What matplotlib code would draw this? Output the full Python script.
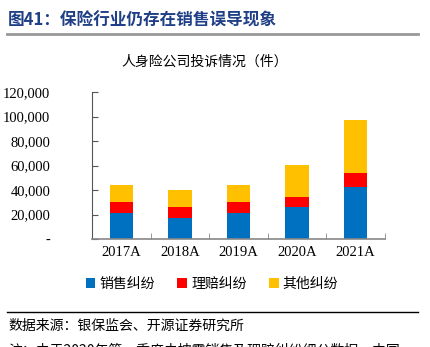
import matplotlib
matplotlib.use('Agg')
import matplotlib.pyplot as plt
import numpy as np
from matplotlib.lines import Line2D

plt.rcParams['font.family'] = ['Noto Sans CJK SC', 'DejaVu Sans']

years = ['2017A', '2018A', '2019A', '2020A', '2021A']
sales = [21400, 17400, 21400, 25900, 42700]
claims = [9000, 9000, 8800, 8600, 11400]
other = [13600, 13600, 13800, 25900, 43000]
series_names = ['销售纠纷', '理赔纠纷', '其他纠纷']
colors = ['#0070C0', '#FF0000', '#FFC000']
yticks = [0, 20000, 40000, 60000, 80000, 100000, 120000]

fig = plt.figure(figsize=(4.3, 3.47), dpi=100)
W, H = 430, 347

# axes placement in pixels
left, right, bottom, top = 92, 385, 239, 92
ax = fig.add_axes([left / W, 1 - bottom / H, (right - left) / W, (bottom - top) / H])

x = np.arange(len(years))
base = np.zeros(len(years))
for vals, c, name in zip([sales, claims, other], colors, series_names):
    ax.bar(x, vals, width=0.4, bottom=base, color=c, label=name, zorder=2)
    base = base + np.array(vals)

ax.set_xlim(-0.5, len(years) - 0.5)
ax.set_ylim(0, 120000)
ax.set_yticks(yticks)
ax.set_yticklabels(['-' if v == 0 else f'{v:,}' for v in yticks],
                   family='Liberation Serif', fontsize=10.5)
ax.set_xticks(x)
ax.set_xticklabels(years, family='Liberation Serif', fontsize=10.5)
ax.tick_params(axis='x', length=0, pad=5)
ax.set_xticks(np.arange(-0.5, len(years)), minor=True)
ax.tick_params(axis='x', which='minor', direction='in', length=4, color='#888888')
ax.tick_params(axis='y', direction='in', length=4, color='#555555', pad=30)
for lab in ax.get_yticklabels():
    lab.set_horizontalalignment('right')

for s in ['top', 'right']:
    ax.spines[s].set_visible(False)
ax.spines['left'].set_color('#555555')
ax.spines['bottom'].set_color('#888888')
ax.spines['bottom'].set_linewidth(1.2)

# header
fig.text(8 / W, 1 - 21 / H, '图41：保险行业仍存在销售误导现象', fontsize=12, fontweight='bold',
         color='#1F3F86', va='center', ha='left')
fig.add_artist(Line2D([7 / W, 418 / W], [1 - 34 / H, 1 - 34 / H], color='#999999', lw=2))
fig.text(205 / W, 1 - 62 / H, '人身险公司投诉情况（件）', fontsize=10, va='center', ha='center')

# legend
handles, labels = ax.get_legend_handles_labels()
fig.legend(handles, labels, loc='center', bbox_to_anchor=(212 / W, 1 - 284 / H), ncol=3,
           frameon=False, fontsize=10, handlelength=0.7, handleheight=0.7,
           handletextpad=0.3, columnspacing=1.6)

# footer
fig.add_artist(Line2D([7 / W, 418 / W], [1 - 312 / H, 1 - 312 / H], color='black', lw=1))
fig.text(8 / W, 1 - 326 / H, '数据来源：银保监会、开源证券研究所', fontsize=10, va='center', ha='left')
fig.text(8 / W, 1 - 350 / H, '注：由于2020年第一季度未披露销售及理赔纠纷细分数据，中国',
         fontsize=10, va='center', ha='left')

fig.savefig('out.png', dpi=100)
